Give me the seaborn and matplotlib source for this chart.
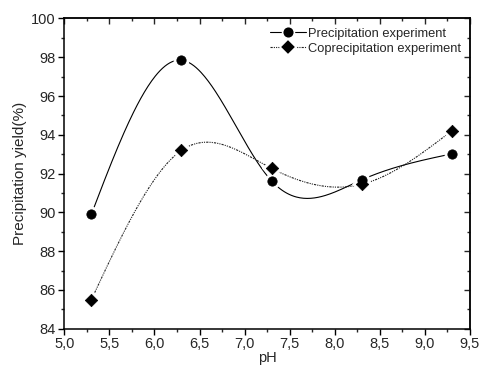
import numpy as np
import pandas as pd
import matplotlib
matplotlib.use("Agg")
import matplotlib.pyplot as plt
import seaborn as sns
from matplotlib.lines import Line2D
from matplotlib.ticker import MultipleLocator, FuncFormatter

# data
ph = [5.3, 6.3, 7.3, 8.3, 9.3]
precip = [89.9, 97.85, 91.62, 91.68, 93.02]
coprecip = [85.5, 93.2, 92.27, 91.45, 94.21]


def natural_spline(x, y, n=300):
    # natural cubic spline through the points (smooth connecting line, like Origin)
    x = np.asarray(x, float)
    y = np.asarray(y, float)
    k = len(x)
    h = np.diff(x)
    A = np.zeros((k, k))
    b = np.zeros(k)
    A[0, 0] = A[-1, -1] = 1
    for i in range(1, k - 1):
        A[i, i - 1] = h[i - 1]
        A[i, i] = 2 * (h[i - 1] + h[i])
        A[i, i + 1] = h[i]
        b[i] = 6 * ((y[i + 1] - y[i]) / h[i] - (y[i] - y[i - 1]) / h[i - 1])
    M = np.linalg.solve(A, b)
    xs = np.linspace(x[0], x[-1], n)
    idx = np.clip(np.searchsorted(x, xs) - 1, 0, k - 2)
    x0, x1 = x[idx], x[idx + 1]
    hh = x1 - x0
    a = (x1 - xs) / hh
    c = (xs - x0) / hh
    ys = (a * y[idx] + c * y[idx + 1]
          + ((a ** 3 - a) * M[idx] + (c ** 3 - c) * M[idx + 1]) * hh ** 2 / 6)
    return xs, ys


sns.set_style("ticks")
plt.rcParams['font.family'] = ['Liberation Sans', 'DejaVu Sans']

fig = plt.figure(figsize=(4.8, 3.69), dpi=100)
ax = fig.add_axes([0.134, 0.109, 0.845, 0.841])

dashdot = (0, (2, 1, 1, 1, 1, 1))
xs, ys = natural_spline(ph, precip)
sns.lineplot(x=xs, y=ys, ax=ax, color='black', linewidth=0.8, sort=False)
xs2, ys2 = natural_spline(ph, coprecip)
sns.lineplot(x=xs2, y=ys2, ax=ax, color='#222222', linewidth=0.8, sort=False,
             linestyle=dashdot)

pts = pd.DataFrame({'pH': ph, 'p': precip, 'c': coprecip})
# white halo so the line stops short of each symbol, then the black symbol
sns.scatterplot(data=pts, x='pH', y='p', ax=ax, marker='o', s=110,
                color='white', edgecolor='white', zorder=3)
sns.scatterplot(data=pts, x='pH', y='c', ax=ax, marker='D', s=100,
                color='white', edgecolor='white', zorder=3)
sns.scatterplot(data=pts, x='pH', y='p', ax=ax, marker='o', s=45,
                color='black', edgecolor='black', zorder=4)
sns.scatterplot(data=pts, x='pH', y='c', ax=ax, marker='D', s=40,
                color='black', edgecolor='black', zorder=4)

ax.set_xlim(5.0, 9.5)
ax.set_ylim(84, 100)
ax.xaxis.set_major_locator(MultipleLocator(0.5))
ax.xaxis.set_minor_locator(MultipleLocator(0.25))
ax.yaxis.set_major_locator(MultipleLocator(2))
ax.yaxis.set_minor_locator(MultipleLocator(1))
ax.xaxis.set_major_formatter(FuncFormatter(lambda v, p: f"{v:.1f}".replace('.', ',')))
ax.tick_params(axis='both', which='major', direction='out', length=4, width=1,
               labelsize=10.5, pad=2, color='black')
ax.tick_params(axis='both', which='minor', direction='out', length=2.5, width=1)

for s in ax.spines.values():
    s.set_visible(True)
    s.set_linewidth(1.1)
    s.set_color('black')

# mirrored inward ticks on top and right
top = ax.secondary_xaxis('top')
top.xaxis.set_major_locator(MultipleLocator(0.5))
top.xaxis.set_minor_locator(MultipleLocator(0.25))
top.tick_params(which='major', direction='in', length=4, width=1, labeltop=False)
top.tick_params(which='minor', direction='in', length=2.5, width=1)
top.spines['top'].set_linewidth(1.1)
right = ax.secondary_yaxis('right')
right.yaxis.set_major_locator(MultipleLocator(2))
right.yaxis.set_minor_locator(MultipleLocator(1))
right.tick_params(which='major', direction='in', length=4, width=1, labelright=False)
right.tick_params(which='minor', direction='in', length=2.5, width=1)
right.spines['right'].set_linewidth(1.1)

ax.set_xlabel('pH', fontsize=10.5, labelpad=0)
ax.set_ylabel('Precipitation yield(%)', fontsize=11, labelpad=3)

handles = [
    Line2D([], [], color='black', linewidth=0.8, marker='o', markersize=8.5,
           markerfacecolor='black', markeredgecolor='white', markeredgewidth=1.2),
    Line2D([], [], color='#222222', linewidth=0.8, linestyle=dashdot,
           marker='D', markersize=8, markerfacecolor='black',
           markeredgecolor='white', markeredgewidth=1.2),
]
ax.legend(handles, ['Precipitation experiment', 'Coprecipitation experiment'],
          loc='upper right', frameon=False, fontsize=9.3, handlelength=2.8,
          handletextpad=0.15, borderaxespad=0.3, labelspacing=0.25)

plt.savefig('out.png', dpi=100)
